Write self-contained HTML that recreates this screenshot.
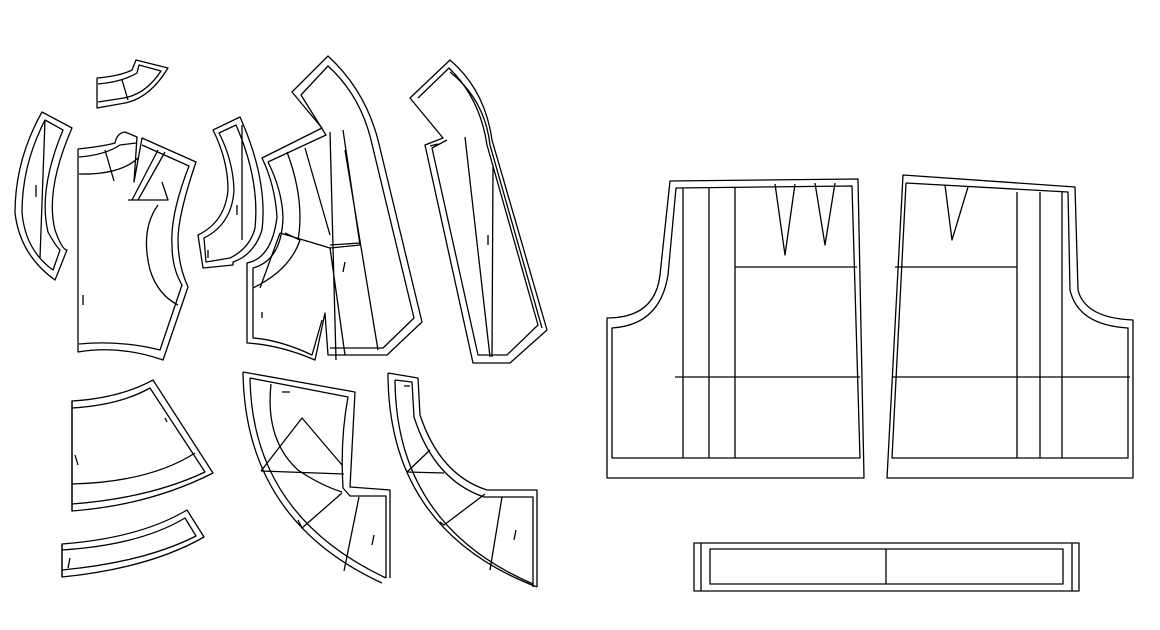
<!DOCTYPE html>
<html><head><style>html,body{margin:0;padding:0;background:#fff}svg{display:block}</style></head>
<body>
<svg width="1160" height="630" viewBox="0 0 1160 630" xmlns="http://www.w3.org/2000/svg" fill="none" stroke="#000" stroke-width="1.3" stroke-linejoin="round">
<!-- small collar -->
<path d="M97,78 Q120,76 132,70 L136,60 L168,68 Q150,98 125,103 L97,108 Z"/>
<path d="M98,84 Q122,82 137,73 L139,65 L161,71 Q146,94 124,98 L98,102"/>
<path d="M122,80 L128,100"/>
<!-- left side piece -->
<path d="M42,112 L72,128 Q45,190 55,230 Q62,250 67,250 L55,280 Q20,255 15,213 Q15,160 42,112 Z"/>
<path d="M45,120 L63,130 Q38,190 48,232 Q55,245 60,250 L53,270 Q25,250 22,212 Q22,165 45,120 Z"/>
<path d="M45,120 L40,258 M36,185 L36,197"/>
<!-- front bodice -->
<path d="M78,149 Q105,146 115,143 Q117,133 125,132 L137,137 L134,182 L142,138 L196,162 Q178,215 178,240 Q178,265 188,287 L163,360 Q120,345 78,352 Z"/>
<path d="M79,157 Q105,155 120,145 L136,143 M142,145 L189,166 Q170,215 172,245 Q172,268 182,285 L160,350 Q120,340 79,344"/>
<path d="M79,174 Q120,175 138,158 M105,150 L114,181 M128,200 L168,200 L162,182 M158,150 L132,200 M165,152 L138,200 M158,205 Q140,230 150,270 Q158,295 178,305 M83,295 L83,305"/>
<!-- second side piece -->
<path d="M213,130 L240,117 Q268,180 262,230 Q254,255 233,262 L233,265 L203,268 L198,235 Q225,222 228,190 Q228,160 213,130 Z"/>
<path d="M219,133 L236,125 Q260,180 255,228 Q250,248 230,258 L206,262 L204,238 Q232,224 234,190 Q233,160 219,133 Z"/>
<path d="M242,125 L242,240 M237,205 L237,215 M208,250 L208,258"/>
<!-- side panel piece -->
<path d="M262,158 L322,128 L292,92 L328,56 Q365,90 378,140 L422,322 L387,355 L328,355 L325,313 L315,360 Q280,345 247,343 L247,263 Q272,258 277,217 Q275,185 262,158 Z"/>
<path d="M268,162 L326,135 L301,95 L328,66 Q360,95 371,140 L414,318 L383,348 L330,348 M322,320 L312,355 Q280,340 253,338 L253,268 Q282,260 283,217 Q282,190 268,162"/>
<path d="M287,152 Q305,200 298,240 M305,148 L330,235 M330,132 L336,360 M343,130 L360,245 L330,248 L280,233 M280,233 L260,288 M285,233 L300,240 Q290,270 253,288 M330,245 L360,243 M330,248 L345,355 M345,150 L378,350 M262,312 L262,318 M345,262 L343,272"/>
<!-- long piece -->
<path d="M410,98 L450,60 Q485,90 492,140 L547,330 L510,363 L473,363 L425,145 L443,138 Z"/>
<path d="M418,98 L449,68 Q480,98 487,145 L538,325 L507,355 L478,355 L432,148 L447,140"/>
<path d="M450,72 Q485,100 490,145 L542,328 M465,137 L490,357 M493,167 L492,357 M488,235 L488,245 M430,146 L438,144"/>
<!-- skirt piece 1 -->
<path d="M72,401 Q120,398 153,380 L213,473 Q150,505 72,511 Z"/>
<path d="M72,408 Q120,405 150,388 L205,472 Q150,498 72,504"/>
<path d="M72,401 L72,511 M72,484 Q150,482 195,453 M75,455 L78,465 M165,418 L167,422"/>
<!-- band -->
<path d="M62,544 Q140,538 187,510 L204,537 Q150,568 62,577 Z"/>
<path d="M62,550 Q140,545 185,518 L196,536 Q145,562 62,570"/>
<path d="M62,544 L62,577 M70,558 L68,568"/>
<!-- quarter piece 1 -->
<path d="M243,372 L355,392 L350,487 L390,490 L390,578 M243,372 Q245,520 382,583"/>
<path d="M250,378 L348,397 Q340,440 343,488 L350,496 L386,496 L386,578 M250,378 Q252,515 386,578"/>
<path d="M271,384 Q265,440 298,470 Q320,485 342,492 M261,471 L302,418 L342,465 M261,471 L344,474 M342,493 L302,528 L298,520 M359,497 L344,571 M282,392 L290,392 M374,535 L372,545"/>
<!-- quarter piece 2 -->
<path d="M388,373 L418,378 L420,415 Q440,475 487,490 L537,490 L537,587 M388,373 Q388,530 537,587"/>
<path d="M395,380 L412,382 L414,417 Q434,480 484,497 L533,497 L533,587 M395,380 Q396,525 533,584"/>
<path d="M407,472 L430,450 M407,472 L444,473 M485,494 L444,525 L440,522 M502,497 L490,570 M404,386 L410,386 M516,530 L514,540"/>
<!-- right back piece -->
<path d="M607,318 Q655,318 660,275 L670,181 L858,179 L864,478 L607,478 Z"/>
<path d="M612,328 Q660,325 668,275 L676,188 L852,186 L860,458 L612,458 Z"/>
<path d="M683,188 L683,458 M709,187 L709,458 M735,187 L735,458 M735,267 L857,267 M675,377 L860,377 M775,184 L785,255 L795,184 M815,183 L825,245 L835,183"/>
<!-- right front piece -->
<path d="M903,175 L1075,187 L1078,290 Q1085,318 1133,320 L1133,478 L887,478 Z"/>
<path d="M906,183 L1068,192 L1070,290 Q1078,325 1128,328 L1128,458 L892,458 L906,183"/>
<path d="M1017,192 L1017,458 M1040,192 L1040,458 M1062,192 L1062,458 M895,267 L1017,267 M893,377 L1130,377 M945,185 L952,240 L968,187"/>
<!-- waistband -->
<rect x="694" y="543" width="385" height="48"/>
<rect x="710" y="549" width="353" height="35"/>
<path d="M886,549 L886,584 M701,543 L701,591 M1072,543 L1072,591"/>
</svg>
</body></html>
